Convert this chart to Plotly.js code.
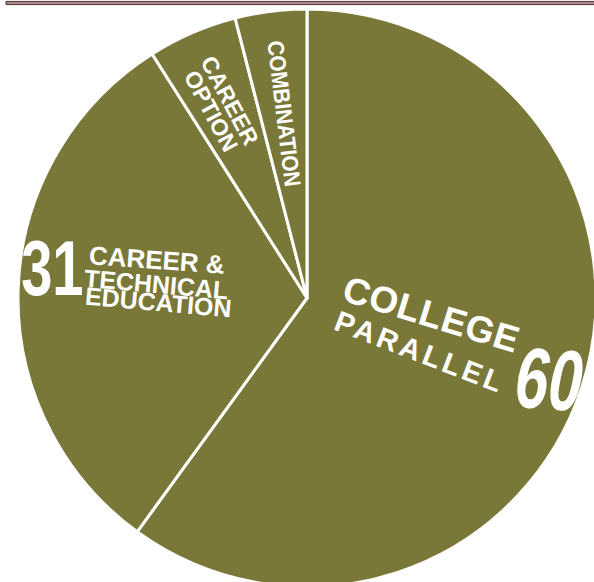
<!DOCTYPE html>
<html><head><meta charset="utf-8">
<script src="https://cdn.plot.ly/plotly-3.0.1.min.js"></script>
<style>
html,body{margin:0;padding:0;overflow:hidden;background:#fff;width:594px;height:582px;}
#chart{width:614px;height:594px;}
g.annotation[data-index="0"] text{letter-spacing:0.5px;}
g.annotation[data-index="1"] text{letter-spacing:3.5px;}
g.annotation[data-index="2"] text{transform:scaleX(0.7);transform-box:fill-box;transform-origin:center;}
g.annotation[data-index="3"] text{transform:scaleX(0.72);transform-box:fill-box;transform-origin:center;}
g.annotation[data-index="9"] text{transform:scaleX(0.9);transform-box:fill-box;transform-origin:center;}
</style></head><body><div id="chart"></div>
<script>
// ---- data ----
const categories = ["COLLEGE PARALLEL", "CAREER & TECHNICAL EDUCATION", "CAREER OPTION", "COMBINATION"];
const values = [60, 31, 5, 4];
const collegeLines = ["COLLEGE", "PARALLEL"];
const cteLines = ["CAREER &", "TECHNICAL", "EDUCATION"];
const optionLines = ["CAREER", "OPTION"];
const combinationLines = ["COMBINATION"];

// ---- layout helpers ----
const W = 614, H = 594;
const cx = 307, cy = 298, r = 289;
const px = x => x / W;
const py = y => 1 - y / H;
const olive = "#7a7838";
const LBL = "Liberation Sans, Arial, Helvetica, sans-serif";

function ann(text, x, y, size, angle, italic) {
  return {
    text: text, xref: "paper", yref: "paper", x: px(x), y: py(y),
    xanchor: "center", yanchor: "middle", showarrow: false, textangle: angle,
    font: {family: LBL, size: size, color: "#ffffff", weight: "bold", style: italic ? "italic" : "normal"}
  };
}

const annotations = [
  ann(collegeLines[0], 431, 314, 37, 17),
  ann(collegeLines[1], 420, 352, 29, 21),
  ann(String(values[0]), 549, 379, 86, 4, true),
  ann(String(values[1]), 52, 268, 78, 0),
  ann(cteLines[0], 157, 260, 26, 4),
  ann(cteLines[1], 156, 284, 25, 5),
  ann(cteLines[2], 158, 302, 25, 5),
  ann(optionLines[0], 230, 101, 23, 62),
  ann(optionLines[1], 211, 111, 23, 62),
  ann(combinationLines[0], 284, 113, 23, 83)
];

const trace = {
  type: "pie",
  labels: categories,
  values: values,
  sort: false,
  direction: "clockwise",
  rotation: 0,
  textinfo: "none",
  hoverinfo: "none",
  marker: {colors: categories.map(() => olive), line: {color: "#ffffff", width: 3}},
  domain: {x: [px(cx - r), px(cx + r)], y: [py(cy + r), py(cy - r)]},
  showlegend: false
};

const layout = {
  width: W, height: H,
  margin: {l: 0, r: 0, t: 0, b: 0, pad: 0},
  paper_bgcolor: "#ffffff",
  showlegend: false,
  annotations: annotations,
  shapes: [
    {type: "rect", xref: "paper", yref: "paper", x0: px(6), x1: 1, y0: py(4.6), y1: py(1.4),
     fillcolor: "#a88a8a", line: {color: "#4e3030", width: 1}}
  ]
};

Plotly.newPlot("chart", [trace], layout, {staticPlot: true, displayModeBar: false});
</script></body></html>
